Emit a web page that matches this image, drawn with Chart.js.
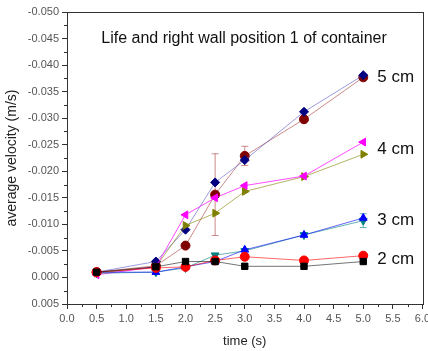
<!DOCTYPE html>
<html lang="en">
<head>
    <meta charset="UTF-8">
    <title>Life and right wall position 1 of container</title>
    <script src="https://cdn.jsdelivr.net/npm/chart.js"></script>
    <style>
        html, body { margin: 0; padding: 0; background: #fff; }
        #wrap { width: 428px; height: 351px; }
    </style>
</head>
<body>
    <div id="wrap"><canvas id="velChart"></canvas></div>

    <script>
        // time points (s)
        const times = [0.5, 1.5, 2.0, 2.5, 3.0, 4.0, 5.0];

        // average velocity (m/s)
        const cm2Black = [-0.0010, -0.0020, -0.0030, -0.0030, -0.0021, -0.0021, -0.0030];
        const cm2Red = [-0.0010, -0.0018, -0.0020, -0.0032, -0.0039, -0.0032, -0.0041];
        const cm3Blue = [-0.0010, -0.0010, -0.0020, -0.0030, -0.0052, -0.0080, -0.0112];
        const cm3Teal = [-0.0008, -0.0010, -0.0018, -0.0042, -0.0050, -0.0080, -0.0107];
        const cm4Magenta = [-0.0005, -0.0020, -0.0118, -0.0150, -0.0173, -0.0191, -0.0255];
        const cm4Olive = [-0.0008, -0.0020, -0.0098, -0.0121, -0.0162, -0.0190, -0.0232];
        const cm5Navy = [-0.0010, -0.0030, -0.0090, -0.0179, -0.0221, -0.0312, -0.0381];
        const cm5DarkRed = [-0.0010, -0.0022, -0.0060, -0.0156, -0.0229, -0.0298, -0.0377];

        // error bar half widths (0 = none drawn)
        const errDarkRed = [0, 0, 0, 0.0077, 0.0018, 0, 0];
        const errTeal = [0, 0, 0, 0, 0, 0, 0.0013];

        const groupLabels = ['5 cm', '4 cm', '3 cm', '2 cm'];

        function pts(vals) {
            return times.map((t, i) => ({ x: t, y: vals[i] }));
        }

        function series(label, vals, color, line, style, rot, err) {
            return {
                label: label,
                data: pts(vals),
                borderColor: line,
                backgroundColor: color,
                pointBorderColor: color,
                pointBackgroundColor: color,
                pointStyle: style,
                pointRotation: rot,
                pointRadius: 4.5,
                borderWidth: 1,
                tension: 0,
                errors: err
            };
        }

        const datasets = [
            series('2 cm a', cm2Black, '#000000', 'rgba(0,0,0,0.55)', 'rect', 0),
            series('2 cm b', cm2Red, '#ff0000', 'rgba(255,0,0,0.6)', 'circle', 0),
            series('3 cm a', cm3Blue, '#0000ff', 'rgba(0,0,255,0.6)', 'triangle', 0),
            series('3 cm b', cm3Teal, '#008080', 'rgba(0,128,128,0.6)', 'triangle', 180, errTeal),
            series('4 cm a', cm4Magenta, '#ff00ff', 'rgba(255,0,255,0.7)', 'triangle', -90),
            series('4 cm b', cm4Olive, '#808000', 'rgba(128,128,0,0.6)', 'triangle', 90),
            series('5 cm a', cm5Navy, '#000080', 'rgba(90,90,200,0.6)', 'rectRot', 0),
            series('5 cm b', cm5DarkRed, '#800000', 'rgba(170,60,60,0.6)', 'circle', 0, errDarkRed)
        ];

        // frame, minor ticks, error bars and in-plot texts
        const extras = {
            id: 'extras',
            beforeDatasetsDraw(chart) {
                const ctx = chart.ctx;
                const x = chart.scales.x, y = chart.scales.y;
                ctx.save();
                chart.data.datasets.forEach((ds, di) => {
                    if (!ds.errors) return;
                    ctx.strokeStyle = ds.borderColor;
                    ctx.lineWidth = 1;
                    ds.data.forEach((p, i) => {
                        const e = ds.errors[i];
                        if (!e) return;
                        const px = x.getPixelForValue(p.x);
                        const y1 = y.getPixelForValue(p.y - e);
                        const y2 = y.getPixelForValue(p.y + e);
                        ctx.beginPath();
                        ctx.moveTo(px, y1); ctx.lineTo(px, y2);
                        ctx.moveTo(px - 3.5, y1); ctx.lineTo(px + 3.5, y1);
                        ctx.moveTo(px - 3.5, y2); ctx.lineTo(px + 3.5, y2);
                        ctx.stroke();
                    });
                });
                ctx.restore();
            },
            afterDraw(chart) {
                const ctx = chart.ctx;
                const a = chart.chartArea;
                const x = chart.scales.x, y = chart.scales.y;
                ctx.save();
                ctx.strokeStyle = '#333';
                ctx.lineWidth = 1;
                ctx.strokeRect(Math.round(a.left) + 0.5, Math.round(a.top) + 0.5,
                    Math.round(a.right - a.left), Math.round(a.bottom - a.top));

                // minor ticks
                ctx.beginPath();
                for (let v = 0.25; v < 6; v += 0.5) {
                    const px = Math.round(x.getPixelForValue(v)) + 0.5;
                    ctx.moveTo(px, a.bottom); ctx.lineTo(px, a.bottom + 3);
                }
                for (let v = -0.0475; v < 0.005; v += 0.005) {
                    const py = Math.round(y.getPixelForValue(v)) + 0.5;
                    ctx.moveTo(a.left, py); ctx.lineTo(a.left - 3, py);
                }
                ctx.stroke();

                ctx.fillStyle = '#111';
                ctx.font = '16px "Liberation Sans", Arial, sans-serif';
                ctx.textAlign = 'center';
                ctx.textBaseline = 'middle';
                ctx.fillText('Life and right wall position 1 of container', 244, a.top + 27);

                // group labels next to the last points
                ctx.font = '17px "Liberation Sans", Arial, sans-serif';
                ctx.textAlign = 'left';
                const lastX = x.getPixelForValue(times[times.length - 1]) + 14;
                const anchors = [
                    (cm5Navy[6] + cm5DarkRed[6]) / 2,
                    (cm4Magenta[6] + cm4Olive[6]) / 2,
                    (cm3Blue[6] + cm3Teal[6]) / 2,
                    (cm2Black[6] + cm2Red[6]) / 2
                ];
                groupLabels.forEach((t, i) => {
                    ctx.fillText(t, lastX, y.getPixelForValue(anchors[i]) + 1);
                });
                ctx.restore();
            }
        };

        const tickFont = { family: '"Liberation Sans", Arial, sans-serif', size: 11 };

        new Chart(document.getElementById('velChart'), {
            type: 'line',
            data: { datasets: datasets },
            options: {
                responsive: true,
                maintainAspectRatio: false,
                animation: false,
                layout: { padding: { top: 12, right: 5, left: 0, bottom: 0 } },
                plugins: {
                    legend: { display: false },
                    tooltip: { enabled: false }
                },
                scales: {
                    x: {
                        type: 'linear',
                        min: 0,
                        max: 6,
                        ticks: {
                            stepSize: 0.5,
                            color: '#555',
                            font: tickFont,
                            padding: 3,
                            maxRotation: 0,
                            callback: v => v.toFixed(1)
                        },
                        grid: { drawOnChartArea: false, color: '#333', tickLength: 5 },
                        border: { color: '#333' },
                        title: {
                            display: true,
                            text: 'time (s)',
                            color: '#222',
                            font: { family: '"Liberation Sans", Arial, sans-serif', size: 13 },
                            padding: { top: 5, bottom: 2 }
                        },
                        afterFit(scale) {
                            scale.height = 47;
                            scale.paddingRight = 0;
                            scale.paddingLeft = 0;
                        }
                    },
                    y: {
                        type: 'linear',
                        reverse: true,
                        min: -0.05,
                        max: 0.005,
                        ticks: {
                            stepSize: 0.005,
                            color: '#555',
                            font: tickFont,
                            padding: 3,
                            callback: v => (Math.abs(v) < 1e-9 ? 0 : v).toFixed(3)
                        },
                        grid: { drawOnChartArea: false, color: '#333', tickLength: 5 },
                        border: { color: '#333' },
                        title: {
                            display: true,
                            text: 'average velocity (m/s)',
                            color: '#222',
                            font: { family: '"Liberation Sans", Arial, sans-serif', size: 14 },
                            padding: { top: 4, bottom: 0 }
                        },
                        afterFit(scale) {
                            scale.width = 67;
                            scale.paddingTop = 0;
                        }
                    }
                }
            },
            plugins: [extras]
        });
    </script>
</body>
</html>
